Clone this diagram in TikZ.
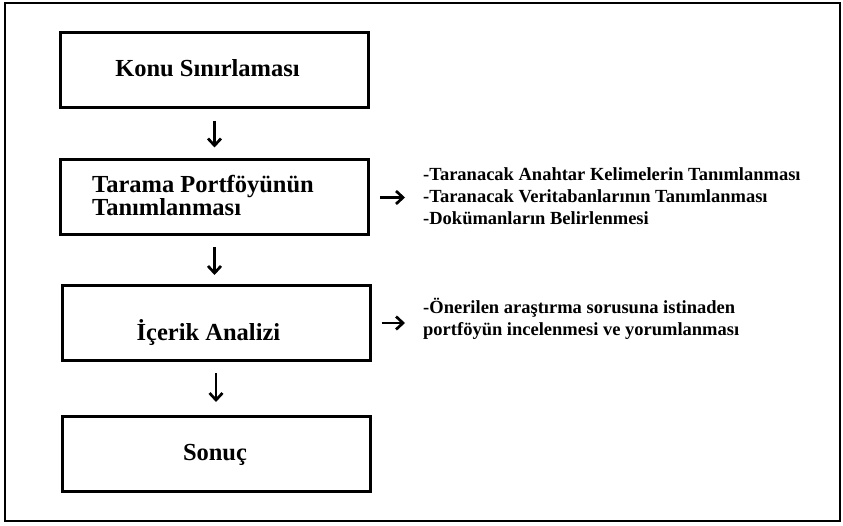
\documentclass[tikz,border=0pt]{standalone}
\usepackage{fontspec}
\setmainfont{Liberation Serif}
\usetikzlibrary{arrows.meta}
\begin{document}
\begin{tikzpicture}[x=1pt,y=-1pt,
  box/.style={draw, line width=3pt, minimum width=308pt, minimum height=75pt, inner sep=0pt},
  btext/.style={font=\fontsize{24.5}{23}\selectfont\bfseries, inner sep=0pt, align=left},
  rtext/.style={font=\fontsize{18.5}{22}\selectfont\bfseries, inner sep=0pt, align=left},
  arr/.style={line width=2.7pt, -{Straight Barb[length=7pt,width=13pt]}}
]
\useasboundingbox (0,0) rectangle (843,526);
\node[draw, line width=2.5pt, minimum width=835pt, minimum height=518pt, inner sep=0pt] (frame) at (422.5,262) {};
\node[box] (b1) at (214.5,70) {};
\node[box] (b2) at (214.5,197.5) {};
\node[box] (b3) at (216,323) {};
\node[box] (b4) at (216,454) {};
\node[btext, anchor=base] (l1) at (207.5,77) {Konu Sınırlaması};
\node[btext, anchor=base west] (l2) at (92,216) {Tarama Portföyünün\\Tanımlanması};
\node[btext, anchor=base] (l3) at (208.5,341) {İçerik Analizi};
\node[btext, anchor=base] (l4) at (215,460) {Sonuç};
\node[rtext, anchor=base west] (r1) at (423,225) {-Taranacak Anahtar Kelimelerin Tanımlanması\\-Taranacak Veritabanlarının Tanımlanması\\-Dokümanların Belirlenmesi};
\node[rtext, anchor=base west] (r2) at (423,336) {-Önerilen araştırma sorusuna istinaden\\portföyün incelenmesi ve yorumlanması};
\draw[arr, shorten <=12pt, shorten >=11pt] (b1.south) -- (b2.north);
\draw[arr, shorten <=11pt, shorten >=9pt] (b2.south) -- (b2.south |- b3.north);
\draw[arr, shorten <=11pt, shorten >=13pt] (b3.south) -- (b3.south |- b4.north);
\draw[arr, shorten <=10pt, shorten >=18pt] (b2.east) -- (b2.east -| r1.west);
\draw[arr, shorten <=10pt, shorten >=18pt] (b3.east) -- (b3.east -| r2.west);
\end{tikzpicture}
\end{document}
